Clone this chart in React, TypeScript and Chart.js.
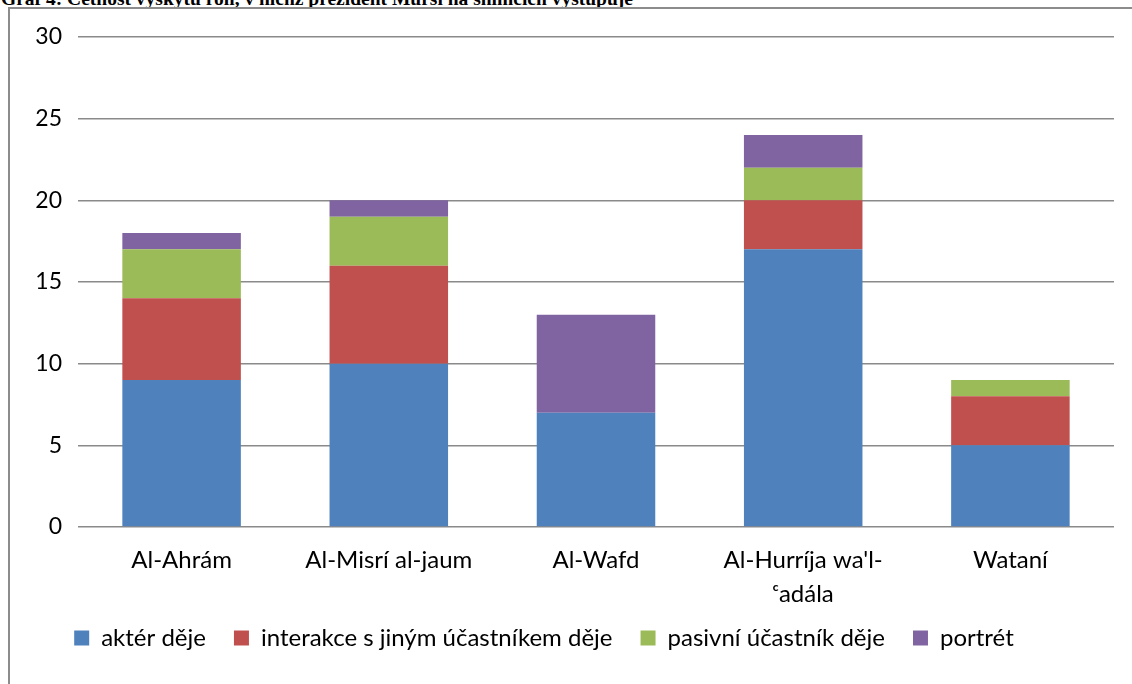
import React, { useEffect, useRef } from "react";
import { Chart, registerables } from "chart.js";

Chart.register(...registerables);

const TITLE = "Graf 4: Četnost výskytu rolí, v nichž prezident Mursí na snímcích vystupuje";
const categories: (string | string[])[] = [
  "Al-Ahrám",
  "Al-Misrí al-jaum",
  "Al-Wafd",
  ["Al-Hurríja wa'l-", "ᶜadála"],
  "Watají".replace("j", "n"),
];
const seriesNames = [
  "aktér děje",
  "interakce s jiným účastníkem děje",
  "pasivní účastník děje",
  "portrét",
];
const akter = [9, 10, 7, 17, 5];
const interakce = [5, 6, 0, 3, 3];
const pasivni = [3, 3, 0, 2, 1];
const portret = [1, 1, 6, 2, 0];
const colors = ["#4F81BD", "#C0504D", "#9BBB59", "#8064A2"];
const yTicks = [0, 5, 10, 15, 20, 25, 30];

const FONT = "Lato, 'Open Sans', sans-serif";

export default function App() {
  const ref = useRef<HTMLCanvasElement | null>(null);

  useEffect(() => {
    if (!ref.current) return;
    const values = [akter, interakce, pasivni, portret];
    const shiftLegend = {
      id: "shiftLegend",
      afterLayout(chart: any) {
        const lg = chart.legend;
        if (lg) {
          lg.left -= 13;
          lg.right -= 13;
          lg.top -= 19;
          lg.bottom -= 19;
        }
      },
    };
    const chart = new Chart(ref.current, {
      type: "bar",
      data: {
        labels: categories as any,
        datasets: values.map((v, i) => ({
          label: seriesNames[i],
          data: v,
          backgroundColor: colors[i],
          borderWidth: 0,
          categoryPercentage: 1,
          barPercentage: 0.572,
        })),
      },
      options: {
        animation: false,
        responsive: false,
        maintainAspectRatio: false,
        devicePixelRatio: 1,
        layout: { padding: { left: 0, right: 18, top: 37, bottom: 5 } },
        plugins: {
          title: { display: false },
          tooltip: { enabled: false },
          legend: {
            position: "bottom",
            labels: {
              boxWidth: 15,
              boxHeight: 15,
              padding: 28,
              color: "#000",
              font: { family: FONT, size: 24 },
            },
          },
        },
        scales: {
          x: {
            stacked: true,
            grid: { display: false, drawTicks: false },
            border: { display: false },
            ticks: {
              color: "#000",
              font: { family: FONT, size: 24, lineHeight: 1.42 },
              padding: 16,
              maxRotation: 0,
              autoSkip: false,
            },
            afterFit(scale: any) {
              scale.height = 90;
            },
          },
          y: {
            stacked: true,
            min: 0,
            max: 30,
            afterBuildTicks(scale: any) {
              scale.ticks = yTicks.map((v) => ({ value: v }));
            },
            grid: { color: "#8a8a8a", lineWidth: 1.5, drawTicks: false },
            border: { display: false },
            ticks: {
              color: "#000",
              font: { family: FONT, size: 23 },
              padding: 16,
            },
            afterFit(scale: any) {
              scale.width = 78;
            },
          },
        },
      },
      plugins: [shiftLegend],
    });
    return () => chart.destroy();
  }, []);

  return (
    <div
      style={{
        position: "fixed",
        left: 0,
        top: 0,
        width: 1132,
        height: 684,
        overflow: "hidden",
        background: "#fff",
      }}
    >
      <div
        style={{
          position: "absolute",
          left: 1,
          top: -11,
          font: "bold 19.5px 'Liberation Serif', 'Times New Roman', serif",
          lineHeight: "19.5px",
          whiteSpace: "nowrap",
          color: "#000",
        }}
      >
        {TITLE}
      </div>
      <div
        style={{
          position: "absolute",
          left: 8,
          top: 7,
          width: 1200,
          height: 800,
          border: "2px solid #8c8c8c",
        }}
      />
      <canvas
        ref={ref}
        width={1132}
        height={684}
        style={{ position: "absolute", left: 0, top: 0, width: 1132, height: 684 }}
      />
    </div>
  );
}
